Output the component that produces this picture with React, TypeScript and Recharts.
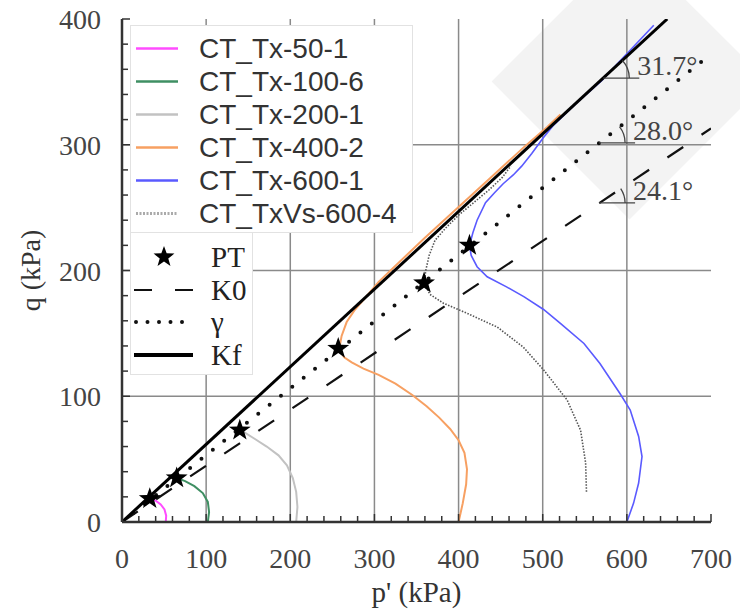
import React from 'react'
import {
  ComposedChart, Line, Scatter, XAxis, YAxis, ReferenceLine, ReferenceDot, Legend,
} from 'recharts'

// stress paths, [p', q] in kPa
const TX_50_1 = [[52, 0], [52.5, 5], [50.5, 10], [46, 14], [40, 17], [33, 18.5]]
const TX_100_6 = [[102, 0], [103.5, 8], [102, 16], [96, 23], [86, 28.5], [75, 32.5], [65, 35]]
const TX_200_1 = [[207, 0], [208.5, 12], [207, 24], [203, 35], [196, 45], [186, 53], [172, 60], [158, 66], [146, 71], [140, 73]]
const TX_400_2 = [
  [400, 0], [405, 15], [409, 30], [410, 42], [407, 55], [400, 65], [390, 74], [377, 83], [362, 92],
  [345, 101], [325, 110], [305, 117], [287, 122], [273, 127], [264, 131], [258, 137],
  [261, 148], [267, 159], [277, 169], [290, 179], [305, 191], [330, 207], [360, 226], [400, 250.5],
  [440, 275], [480, 299.5], [505, 314], [521, 324],
]
const TX_600_1 = [
  [600, 0], [608, 15], [614, 31], [618, 52], [614, 68], [604, 89], [592, 102], [568, 126],
  [549, 142], [521, 158], [501, 169], [478, 179], [457, 187], [434, 195], [422, 203], [415, 212],
  [413, 220], [417, 230], [422, 240], [432, 254], [443, 262], [453, 269], [465, 276], [475, 283],
  [487, 293], [500, 305], [512, 315], [540, 333], [570, 351], [598, 371], [632, 395],
]
const TXVS_600_4 = [
  [552, 24], [551, 47], [545, 73], [529, 97], [501, 121], [477, 139], [446, 155], [410, 166],
  [382, 174], [366, 181], [359, 190], [361, 200], [365, 212], [372, 224], [385, 234], [400, 244],
  [418, 254], [436, 264], [452, 274], [462, 283],
]
const PT = [[33, 18.5], [65, 35], [140, 73], [257, 138], [359, 190], [413, 220]]

// failure / reference lines
const KF_LINE = [[0, 0], [648, 400]]
const GAMMA_LINE = [[0, 0], [700, 372]]
const K0_LINE = [[0, 0], [700, 313]]

const ANGLES = [
  { text: '31.7°', deg: 31.7, at: [572, 353] },
  { text: '28.0°', deg: 28.0, at: [567, 301.5] },
  { text: '24.1°', deg: 24.1, at: [567, 253.7] },
]

const X_GRID = [100, 200, 300, 400, 500, 600]
const Y_GRID = [100, 200, 300]
const MINOR = 20

const W = 740
const H = 613
const M = { top: 19, right: 29, left: 0, bottom: 0 }
const Y_W = 122
const X_H = 91

const SERIF = "'Liberation Serif', 'DejaVu Serif', 'Noto Serif', Tinos, serif"
const SANS = "'Liberation Sans', Arial, sans-serif"

const pts = (a: number[][]) => a.map(([p, q]) => ({ p, q }))
const steps = (max: number) => Array.from({ length: max / MINOR + 1 }, (_, i) => i * MINOR)
const X_TICKS = steps(700)
const Y_TICKS = steps(400)

const PATHS = [
  { name: 'CT_Tx-50-1', data: TX_50_1, color: '#ff4cff', width: 2 },
  { name: 'CT_Tx-100-6', data: TX_100_6, color: '#3f8f63', width: 2 },
  { name: 'CT_Tx-200-1', data: TX_200_1, color: '#c2c2c2', width: 2 },
  { name: 'CT_Tx-400-2', data: TX_400_2, color: '#f7a062', width: 2 },
  { name: 'CT_Tx-600-1', data: TX_600_1, color: '#5a5aff', width: 1.6 },
  { name: 'CT_TxVs-600-4', data: TXVS_600_4, color: '#555555', width: 1.6, dash: '1.5 1.5' },
]

function starPath(cx: number, cy: number, R: number, r: number) {
  let d = ''
  for (let i = 0; i < 10; i++) {
    const rad = i % 2 === 0 ? R : r
    const a = -Math.PI / 2 + (i * Math.PI) / 5
    d += (i ? 'L' : 'M') + (cx + rad * Math.cos(a)).toFixed(2) + ',' + (cy + rad * Math.sin(a)).toFixed(2)
  }
  return d + 'Z'
}

/* eslint-disable @typescript-eslint/no-explicit-any */
function BottomTick({ x, y, payload }: any) {
  const major = payload.value % 100 === 0
  return (
    <g>
      <line x1={x} y1={y} x2={x} y2={y - (major ? 8 : 6)} stroke="#333" strokeWidth={1.5} />
      {major && (
        <text x={x} y={y + 46} textAnchor="middle" style={{ fontFamily: SERIF }} fontSize={28} fill="#444">
          {payload.value}
        </text>
      )}
    </g>
  )
}

function TopTick({ x, y, payload }: any) {
  const major = payload.value % 100 === 0
  return <line x1={x} y1={y} x2={x} y2={y + (major ? 8 : 6)} stroke="#333" strokeWidth={1.5} />
}

function LeftTick({ x, y, payload }: any) {
  const major = payload.value % 100 === 0
  return (
    <g>
      <line x1={x} y1={y} x2={x + (major ? 8 : 6)} y2={y} stroke="#333" strokeWidth={1.5} />
      {major && (
        <text x={x - 21} y={y + 10} textAnchor="end" style={{ fontFamily: SERIF }} fontSize={28} fill="#444">
          {payload.value}
        </text>
      )}
    </g>
  )
}

function RightTick({ x, y, payload }: any) {
  const major = payload.value % 100 === 0
  return <line x1={x} y1={y} x2={x - (major ? 8 : 6)} y2={y} stroke="#333" strokeWidth={1.5} />
}

function XTitle({ viewBox }: any) {
  const { x, y, width } = viewBox
  return (
    <text x={x + width / 2} y={y + 80} textAnchor="middle" style={{ fontFamily: SERIF }} fontSize={29} fill="#333">
      p' (kPa)
    </text>
  )
}

function YTitle({ viewBox }: any) {
  const { y, height } = viewBox
  const cy = y + height / 2
  return (
    <text x={40} y={cy} transform={`rotate(-90 40 ${cy})`} textAnchor="middle" style={{ fontFamily: SERIF }} fontSize={28} fill="#333">
      q (kPa)
    </text>
  )
}

// px per kPa, used only to draw the angle arc in screen space
const PX_P = (W - M.right - Y_W) / 700
const PX_Q = (H - X_H - M.top) / 400

function AngleMark({ cx, cy, text, deg }: any) {
  const a = Math.atan(Math.tan((deg * Math.PI) / 180) * (PX_Q / PX_P))
  const r = 26
  return (
    <g>
      <line x1={cx} y1={cy} x2={cx + 36} y2={cy} stroke="#444" strokeWidth={1.3} />
      <path
        d={`M${cx + r},${cy} A${r},${r} 0 0 0 ${cx + r * Math.cos(a)},${cy - r * Math.sin(a)}`}
        fill="none" stroke="#444" strokeWidth={1.3}
      />
      <text x={cx + 34} y={cy - 3} style={{ fontFamily: SERIF }} fontSize={28} fill="#444">{text}</text>
    </g>
  )
}

function Legends() {
  return (
    <div style={{ position: 'relative', width: 283, height: 350 }}>
      <div style={{
        position: 'absolute', left: 0, top: 0, width: 283, height: 208,
        background: '#fff', border: '1px solid #e2e2e2', boxSizing: 'border-box',
      }}>
        {PATHS.map((s, i) => (
          <div key={s.name} style={{ position: 'absolute', left: 0, top: 6 + i * 33, height: 33, display: 'flex', alignItems: 'center' }}>
            <svg width={60} height={33} style={{ display: 'block' }}>
              <line x1={5} x2={47} y1={16.5} y2={16.5} stroke={s.dash ? '#aaa' : s.color}
                strokeWidth={s.dash ? 3 : 2.5} strokeDasharray={s.dash ? '2 1.5' : undefined} />
            </svg>
            <span style={{ marginLeft: 8, fontFamily: SANS, fontSize: 28, color: '#333', lineHeight: '33px', whiteSpace: 'nowrap' }}>
              {s.name}
            </span>
          </div>
        ))}
      </div>
      <div style={{
        position: 'absolute', left: 0, top: 207, width: 123, height: 143,
        background: '#fff', border: '1px solid #e2e2e2', boxSizing: 'border-box',
      }}>
        {['PT', 'K0', 'γ', 'Kf'].map((name, i) => (
          <div key={name} style={{ position: 'absolute', left: 0, top: 8 + i * 32.5, height: 32, display: 'flex', alignItems: 'center' }}>
            <svg width={72} height={32} style={{ display: 'block' }}>
              {name === 'PT' && <path d={starPath(33, 16, 11, 4.5)} fill="#000" />}
              {name === 'K0' && <line x1={3} x2={62} y1={16} y2={16} stroke="#111" strokeWidth={2.2} strokeDasharray="18 23" />}
              {name === 'γ' && <line x1={5} x2={62} y1={16} y2={16} stroke="#111" strokeWidth={4} strokeDasharray="0 11.5" strokeLinecap="round" />}
              {name === 'Kf' && <line x1={3} x2={62} y1={16} y2={16} stroke="#000" strokeWidth={4} />}
            </svg>
            <span style={{ marginLeft: 8, fontFamily: SERIF, fontSize: 29, color: '#222', lineHeight: '32px' }}>{name}</span>
          </div>
        ))}
      </div>
    </div>
  )
}

export default function App() {
  return (
    <div style={{ position: 'absolute', left: 0, top: 0, width: W, height: H, overflow: 'hidden', background: '#fff' }}>
      <div style={{
        position: 'absolute', left: 630 - 97.6, top: 82 - 97.6, width: 195, height: 195,
        background: '#f3f3f3', transform: 'rotate(45deg)',
      }} />
      <ComposedChart width={W} height={H} margin={M} style={{ position: 'absolute', left: 0, top: 0 }}>
        <XAxis type="number" dataKey="p" domain={[0, 700]} ticks={X_TICKS} interval={0} allowDataOverflow
          height={X_H} tickSize={0} tickMargin={0} tick={<BottomTick />}
          axisLine={{ stroke: '#333', strokeWidth: 2.5 }} label={<XTitle />} />
        <XAxis xAxisId="top" orientation="top" type="number" dataKey="p" domain={[0, 700]} ticks={X_TICKS} interval={0}
          height={0} tickSize={0} tickMargin={0} tick={<TopTick />} axisLine={{ stroke: '#333', strokeWidth: 2.5 }} />
        <YAxis type="number" dataKey="q" domain={[0, 400]} ticks={Y_TICKS} interval={0} allowDataOverflow
          width={Y_W} tickSize={0} tickMargin={0} tick={<LeftTick />}
          axisLine={{ stroke: '#333', strokeWidth: 2.5 }} label={<YTitle />} />
        <YAxis yAxisId="right" orientation="right" type="number" dataKey="q" domain={[0, 400]} ticks={Y_TICKS} interval={0}
          width={0} tickSize={0} tickMargin={0} tick={<RightTick />} axisLine={{ stroke: '#333', strokeWidth: 2.5 }} />

        {X_GRID.map(v => <ReferenceLine key={`gx${v}`} x={v} stroke="#8a8a8a" strokeWidth={1.5} />)}
        {Y_GRID.map(v => <ReferenceLine key={`gy${v}`} y={v} stroke="#8a8a8a" strokeWidth={1.5} />)}

        {PATHS.map(s => (
          <Line key={s.name} data={pts(s.data)} dataKey="q" type="linear" stroke={s.color} strokeWidth={s.width}
            strokeDasharray={s.dash} dot={false} activeDot={false} isAnimationActive={false} legendType="none" />
        ))}

        <Line data={pts(K0_LINE)} dataKey="q" stroke="#111" strokeWidth={2.2} strokeDasharray="19 22"
          dot={false} activeDot={false} isAnimationActive={false} legendType="none" />
        <Line data={pts(GAMMA_LINE)} dataKey="q" stroke="#111" strokeWidth={4} strokeDasharray="0 14.5" strokeLinecap="round"
          dot={false} activeDot={false} isAnimationActive={false} legendType="none" />
        <Line data={pts(KF_LINE)} dataKey="q" stroke="#000" strokeWidth={3}
          dot={false} activeDot={false} isAnimationActive={false} legendType="none" />

        <Scatter data={pts(PT)} dataKey="q" isAnimationActive={false} legendType="none"
          shape={(props: any) => <path d={starPath(props.cx, props.cy, 11.5, 4.6)} fill="#000" />} />

        {ANGLES.map(a => (
          <ReferenceDot key={a.text} x={a.at[0]} y={a.at[1]} r={0}
            shape={(props: any) => <AngleMark cx={props.cx} cy={props.cy} text={a.text} deg={a.deg} />} />
        ))}

        <Legend layout="vertical" align="center" verticalAlign="middle" content={<Legends />}
          wrapperStyle={{ left: 130, top: 25, width: 283, height: 350, margin: 0 }} />
      </ComposedChart>
    </div>
  )
}
